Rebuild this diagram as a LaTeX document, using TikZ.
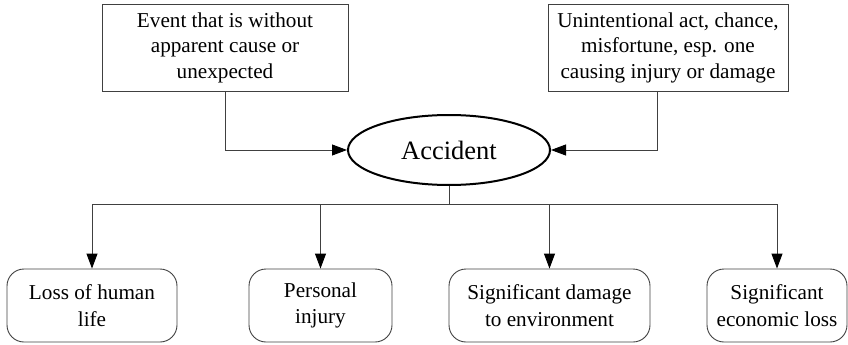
\documentclass[tikz,border=0pt]{standalone}
\usepackage{fontspec}
\setmainfont{Liberation Serif}
\usetikzlibrary{arrows.meta,shapes.geometric}
\begin{document}
\begin{tikzpicture}[x=1pt,y=-1pt,
  defbox/.style={draw=black!75,line width=0.9pt,rectangle,align=center,inner sep=0pt,
    font=\fontsize{21.2}{25.5}\selectfont},
  outcome/.style={draw=black!75,line width=0.9pt,rectangle,rounded corners=17pt,align=center,
    inner sep=0pt,minimum height=73pt,font=\fontsize{21.2}{26.5}\selectfont},
  hub/.style={draw=black,line width=2pt,ellipse,minimum width=202pt,minimum height=70pt,
    inner sep=0pt,font=\fontsize{26.5}{30}\selectfont},
  link/.style={draw=black!75,line width=0.9pt},
  arr/.style={link,-{Triangle[length=15pt,width=11pt,color=black]}}]
\useasboundingbox (0,0) rectangle (848,345);
% definitions feeding the central notion
\node[defbox,minimum width=246pt,minimum height=87pt] (def1) at (225,47.5)
  {Event that is without\\apparent cause or\\unexpected};
\node[defbox,minimum width=240pt,minimum height=87pt] (def2) at (668,47.5)
  {Unintentional act, chance,\\misfortune, esp. one\\causing injury or damage};
\node[hub] (acc) at (449,150) {Accident};
% consequences
\node[outcome,minimum width=170pt] (c1) at (92,305.5) {Loss of human\\life};
\node[outcome,minimum width=143pt] (c2) at (320.5,305.5) {Personal\\injury};
\node[outcome,minimum width=201pt] (c3) at (549.5,305.5) {Significant damage\\to environment};
\node[outcome,minimum width=140pt] (c4) at (777,305.5) {Significant\\economic loss};
% connectors into the ellipse
\coordinate (d2) at (657,91);
\draw[arr] (def1.south) |- (acc.west);
\draw[arr] (d2) |- (acc.east);
% fan-out to consequences
\coordinate (bus) at (449,204);
\draw[link] (acc.south) -- (bus);
\draw[link] (c1.north |- bus) -- (c4.north |- bus);
\foreach \c in {c1,c2,c3,c4}
  \draw[arr] (\c.north |- bus) -- (\c.north);
\end{tikzpicture}
\end{document}
